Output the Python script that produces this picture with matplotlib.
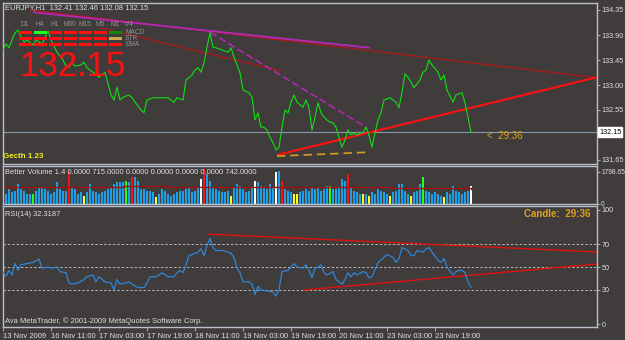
#!/usr/bin/env python3
"""
MetaTrader style EURJPY H1 chart: price, Better Volume and RSI(14) panels.
"""

import matplotlib.pyplot as plt
import matplotlib.patches as patches

plt.rcParams['font.family'] = ['Liberation Sans', 'DejaVu Sans']

# ---- data -------------------------------------------------------------
close_bars = [0, 1, 2, 3, 4, 5, 6, 7, 8, 10, 11, 13, 15, 16, 18, 20, 21, 22, 23, 24,
              26, 27, 28, 30, 32, 34, 36, 37, 38, 39, 40, 42, 43, 46, 47, 48, 50, 52, 55, 57,
              58, 60, 61, 63, 64, 65, 66, 67, 68, 69, 70, 71, 73, 75, 76, 77, 79, 80, 82, 83,
              84, 85, 86, 87, 88, 89, 90, 91, 92, 93, 94, 95, 96, 97, 98, 100, 101, 102, 103, 104,
              105, 106, 107, 108, 109, 110, 111, 112, 113, 114, 115, 116, 117, 118, 120, 121, 122, 123, 124, 125,
              126, 127, 129, 131, 132, 133, 134, 135, 136, 137, 138, 139, 140, 141, 142, 143, 145, 146, 147, 148,
              150, 151, 153, 154, 155, 156]
close = [133.63, 133.74, 133.67, 133.81, 133.94, 133.99, 133.86, 133.77, 133.81, 133.72,
         133.81, 133.74, 133.97, 133.81, 133.59, 133.45, 133.34, 133.32, 133.40, 133.34,
         133.36, 133.41, 133.31, 133.23, 133.14, 133.23, 132.82, 132.73, 132.96, 132.73,
         132.78, 132.82, 132.77, 132.55, 132.50, 132.73, 132.77, 132.77, 132.77, 132.69,
         132.77, 132.73, 133.09, 133.18, 133.27, 133.31, 133.23, 133.40, 133.68, 133.94,
         133.68, 133.67, 133.63, 133.59, 133.67, 133.50, 133.22, 132.91, 132.86, 132.78,
         132.37, 132.50, 132.24, 132.24, 132.19, 132.06, 131.96, 131.83, 131.88, 132.24,
         132.55, 132.50, 132.69, 132.82, 132.69, 132.60, 132.73, 132.59, 132.19, 132.42,
         132.68, 132.50, 132.42, 132.37, 132.33, 132.32, 132.24, 132.05, 131.88, 132.01,
         132.19, 132.10, 132.14, 132.10, 132.15, 132.24, 132.10, 131.88, 132.14, 132.37,
         132.50, 132.73, 132.77, 132.69, 132.59, 132.87, 133.20, 133.14, 133.05, 132.95,
         133.02, 133.09, 133.23, 133.27, 133.45, 133.36, 133.23, 133.09, 133.18, 132.91,
         132.69, 132.82, 132.86, 132.68, 132.42, 132.15]

price_ticks = [134.35, 133.90, 133.45, 133.00, 132.55, 131.65]
last_price = 132.15

# trend lines on price panel: (bar0, price0, bar1, price1)
upper_red = (9, 134.35, 198, 133.13)
upper_magenta = (10, 134.31, 122.3, 133.67)
second_red = (32.3, 134.03, 93, 133.25)
diag_magenta = (69, 133.95, 121.3, 132.23)
support_red = (91.3, 131.74, 198, 133.14)
support_gold = (91.3, 131.72, 121.7, 131.79)

volume = [650, 560, 840, 650, 750, 1120, 840, 750, 560, 560, 560,
          750, 940, 940, 840, 750, 560, 650, 1220, 840, 750,
          750, 1910, 940, 840, 560, 650, 470, 650, 1120, 750,
          650, 560, 650, 750, 840, 940, 1120, 1220, 1220, 1220,
          1310, 1220, 1500, 1500, 1310, 840, 840, 750, 750, 650,
          370, 560, 840, 750, 560, 470, 560, 650, 750, 750,
          840, 940, 650, 750, 940, 1400, 1960, 1680, 1310, 940,
          840, 750, 650, 650, 750, 470, 940, 1120, 1030, 840,
          650, 750, 940, 1310, 1220, 1030, 940, 840, 1120, 940,
          1780, 1870, 1310, 840, 750, 650, 560, 560, 650, 750,
          840, 750, 940, 840, 940, 750, 840, 1030, 1030, 840,
          840, 940, 1400, 1310, 1680, 940, 750, 650, 560, 560,
          560, 470, 650, 560, 840, 750, 650, 560, 470, 650,
          750, 1120, 1120, 750, 560, 470, 650, 750, 1120, 1500,
          750, 650, 560, 650, 560, 470, 410, 650, 560, 1030,
          750, 650, 560, 650, 750, 1030]
vol_red = [22, 43, 67, 93, 115]
vol_green = [10, 41, 109, 140]
vol_yellow = [27, 51, 76, 97, 98, 120, 122, 129, 136, 147]
vol_white = [66, 84, 91, 156]
vol_ma_bars = [0, 40, 55, 70, 100, 130, 156]
vol_ma = [960, 1000, 980, 950, 940, 900, 860]

rsi_bars = [0, 1, 2, 3, 4, 5, 6, 8, 10, 12, 13, 15, 16, 18, 19, 21, 22, 23, 25, 27,
            28, 30, 31, 32, 34, 36, 37, 38, 39, 41, 42, 43, 45, 47, 48, 49, 51, 52, 53, 55,
            57, 58, 59, 60, 61, 62, 65, 66, 67, 68, 69, 70, 71, 73, 75, 76, 77, 78, 79, 80,
            82, 83, 84, 85, 86, 88, 90, 91, 92, 93, 95, 97, 98, 100, 101, 102, 103, 104, 105, 106,
            107, 108, 110, 111, 113, 114, 115, 116, 117, 118, 120, 121, 122, 123, 125, 127, 128, 130, 131, 132,
            133, 135, 136, 137, 138, 140, 141, 142, 143, 145, 146, 147, 148, 150, 151, 152, 153, 154, 155, 156]
rsi = [45, 42, 47, 43, 53, 47, 52, 53, 54, 57, 49, 50, 49, 50, 46, 45, 36, 35, 36, 39,
       41.5, 43, 37, 41.5, 37, 36, 30, 39, 35, 36, 37, 35, 32, 32, 36, 41.5, 41.5, 43, 45, 41.5,
       41.5, 45, 47, 45, 52, 60, 63, 66, 60, 69, 75, 67, 64.5, 64.5, 63, 62, 58.5, 49, 45, 37,
       37, 35, 26, 33, 30, 29, 28, 24.5, 30, 46, 47, 53, 50, 49, 52, 47, 40.5, 49, 50, 52,
       45, 43, 46, 39, 35, 39, 45, 41.5, 45, 43, 46, 45, 40.5, 41.5, 54, 58.5, 61, 58.5, 54, 57.5,
       67, 64.5, 60, 60, 64.5, 63, 66, 67, 63, 56, 54, 57.5, 50, 43, 46, 47, 47, 45, 37, 32.32]
rsi_levels = [70, 50, 30]
rsi_upper = (68, 78.9, 198, 63.2)
rsi_lower = (100, 29.8, 198, 52.6)

time_ticks = [0, 16, 32, 48, 64, 80, 96, 112, 128, 144]
time_labels = ['13 Nov 2009', '16 Nov 11:00', '17 Nov 03:00', '17 Nov 19:00',
               '18 Nov 11:00', '19 Nov 03:00', '19 Nov 19:00', '20 Nov 11:00',
               '23 Nov 03:00', '23 Nov 19:00']

timeframes = ['D1', 'H4', 'H1', 'M30', 'M15', 'M5', 'M1']
signal_rows = ['MACD', 'STR', 'EMA']
signals = [['dn', 'up', 'dn', 'dn', 'dn', 'dn', 'up_weak'],
           ['dn', 'dn', 'dn', 'dn', 'dn', 'dn', 'flat'],
           ['dn', 'dn', 'dn', 'dn', 'dn', 'dn', 'dn']]

# ---- styling ----------------------------------------------------------
W, H = 625, 340
BG = '#403c3c'
FRAME = '#b8c0cc'
TXT = '#e0e0e0'
ORANGE = '#e0a020'
signal_colors = {'dn': '#ff1010', 'up': '#20ff20', 'up_weak': '#0a8a0a', 'flat': '#c8a848'}

fig = plt.figure(figsize=(6.25, 3.4), dpi=100, facecolor=BG)


def px_rect(x0, y0, x1, y1):
    return [x0 / W, 1 - y1 / H, (x1 - x0) / W, (y1 - y0) / H]


def style_panel(a):
    a.set_facecolor(BG)
    for s in a.spines.values():
        s.set_color(FRAME)
        s.set_linewidth(1)
    a.yaxis.tick_right()
    a.tick_params(axis='y', colors=FRAME, labelcolor=TXT, labelsize=5.2,
                  length=2, width=0.6, pad=1.5)
    a.set_xlim(0, 198)


def seg(a, line, **kw):
    a.plot([line[0], line[2]], [line[1], line[3]], solid_capstyle='butt', **kw)


# ---- price panel --------------------------------------------------------
ax = fig.add_axes(px_rect(3, 3, 597, 164))
style_panel(ax)
ax.set_ylim(131.578, 134.476)
ax.set_xticks([])
ax.set_yticks(price_ticks)
ax.set_yticklabels([f'{p:.2f}' for p in price_ticks])
ax.axhline(last_price, color='#8898aa', lw=0.8, zorder=1)
seg(ax, upper_red, color='#b01818', lw=0.9, zorder=2)
seg(ax, upper_magenta, color='#b828b8', lw=1.3, zorder=3)
seg(ax, second_red, color='#b01818', lw=0.9, zorder=2)
seg(ax, diag_magenta, color='#b828b8', lw=1.1, ls=(0, (5, 2)), zorder=3)
seg(ax, support_red, color='#ff1010', lw=1.5, zorder=4)
seg(ax, support_gold, color='#d4a020', lw=1.2, ls=(0, (5, 3)), zorder=4)
ax.plot(close_bars, close, color='#10e010', lw=0.8, zorder=5)

# ---- volume panel -------------------------------------------------------
axv = fig.add_axes(px_rect(3, 166, 597, 204))
style_panel(axv)
axv.set_ylim(0, 2130)
axv.set_xticks([])
axv.set_yticks([1798.65, 0])
axv.set_yticklabels(['1798.65', '0'])
axv.tick_params(axis='y', labelsize=4.8, pad=1)
vcolors = []
for i in range(len(volume)):
    c = '#1ea0e6'
    if i in vol_red:
        c = '#ff1010'
    elif i in vol_green:
        c = '#20ff20'
    elif i in vol_yellow:
        c = '#ffff20'
    elif i in vol_white:
        c = '#ffffff'
    vcolors.append(c)
axv.bar(range(len(volume)), volume, width=0.7, color=vcolors, linewidth=0)
axv.step(vol_ma_bars, vol_ma, where='post', color='#a01010', lw=1.0)

# ---- RSI panel ----------------------------------------------------------
axr = fig.add_axes(px_rect(3, 206, 597, 327))
style_panel(axr)
axr.set_ylim(-2.6, 103.5)
axr.set_yticks([100, 70, 50, 30, 0])
for lv in rsi_levels:
    axr.axhline(lv, color='#b8b8b8', lw=0.7, ls=(0, (2.5, 2)), zorder=1)
seg(axr, rsi_upper, color='#e01010', lw=1.0, zorder=2)
seg(axr, rsi_lower, color='#e01010', lw=1.0, zorder=2)
axr.plot(rsi_bars, rsi, color='#2f86d6', lw=0.9, zorder=3)
axr.set_xticks(time_ticks)
axr.set_xticklabels(time_labels, ha='left')
axr.tick_params(axis='x', colors=FRAME, labelcolor=TXT, labelsize=5.5,
                length=3, width=0.6, pad=1)

# ---- overlay in pixel space --------------------------------------------
ov = fig.add_axes([0, 0, 1, 1], zorder=10)
ov.set_xlim(0, W)
ov.set_ylim(H, 0)
ov.axis('off')
ov.patch.set_alpha(0)

ov.text(5, 8, 'EURJPY,H1  132.41 132.46 132.08 132.15', color=TXT,
        fontsize=5.4, va='center')

for i, tf in enumerate(timeframes):
    ov.text(25 + 15 * i, 25, tf, color='#909090', fontsize=4.8,
            ha='center', va='center')
ov.text(129, 25, 'c/4', color='#909090', fontsize=4.8, ha='center', va='center')
row_y = [30.8, 36.8, 42.6]
for r, name in enumerate(signal_rows):
    for i in range(len(timeframes)):
        ov.add_patch(patches.Rectangle((19 + 15 * i, row_y[r]), 12.5, 3.4,
                                       color=signal_colors[signals[r][i]], lw=0))
    ov.text(125, row_y[r] + 1.7, name, color='#909090', fontsize=4.8, va='center')

ov.text(19, 66, '132.15', color='#ff1010', fontsize=25, va='center')
ov.text(3, 157, 'Gecth 1.23', color='#f0f020', fontsize=5.8, va='center',
        fontweight='bold')
ov.text(487, 136, '<  29:36', color=ORANGE, fontsize=7, va='center')
ov.text(599, 132, '132.15', color='black', fontsize=5.2, va='center',
        bbox=dict(facecolor='white', edgecolor='white', pad=0.8))

ov.text(5, 173, 'Better Volume 1.4 0.0000 715.0000 0.0000 0.0000 0.0000 0.0000 742.0000',
        color=TXT, fontsize=5.4, va='center')
ov.text(5, 214, 'RSI(14) 32.3187', color=TXT, fontsize=5.4, va='center')
ov.text(590, 214, 'Candle:  29:36', color=ORANGE, fontsize=7, va='center',
        ha='right', fontweight='bold')
ov.text(5, 321, 'Ava MetaTrader, \u00a9 2001-2009 MetaQuotes Software Corp.',
        color=TXT, fontsize=5.4, va='center')

fig.savefig('out.png', dpi=100, facecolor=BG)
plt.close(fig)
